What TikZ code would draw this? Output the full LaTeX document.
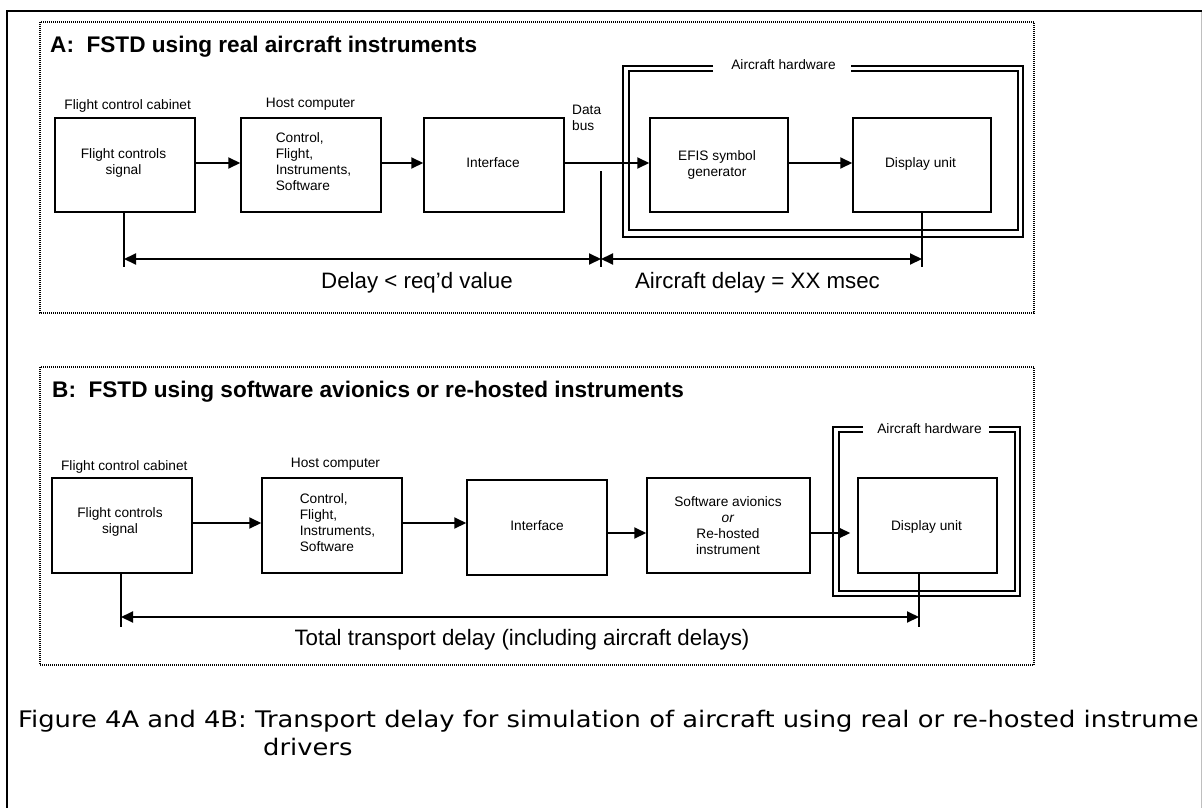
\documentclass[tikz,border=0pt]{standalone}
\usepackage{fontspec}
\setmainfont{Liberation Sans}
\newfontfamily\capfont{DejaVu Sans}
\usetikzlibrary{arrows.meta,calc}
\newcommand\smtxt{\fontsize{13.7}{16}\selectfont}
\newcommand\bigtxt{\fontsize{22.3}{26}\selectfont}
\newcommand\ttltxt{\fontsize{22.6}{26}\selectfont\bfseries}
\newcommand\captxt{\capfont\fontsize{22.8}{28}\selectfont}
\begin{document}
\begin{tikzpicture}[x=1pt,y=-1pt,
  blk/.style={draw,line width=1.5pt,minimum width=140pt,minimum height=94pt,inner sep=0pt},
  txt/.style={font=\smtxt,inner sep=0pt,align=center},
  lbl/.style={font=\smtxt,inner sep=0pt,anchor=base},
  dimlbl/.style={font=\bigtxt,inner sep=0pt,anchor=base},
  ttl/.style={font=\ttltxt,inner sep=0pt,anchor=base west},
  arr/.style={line width=2pt,-{Triangle[length=12pt,width=11pt]}},
  dimarr/.style={line width=2pt,{Triangle[length=12pt,width=11pt]}-{Triangle[length=12pt,width=11pt]}},
  tickln/.style={line width=1.3pt},
  panel/.style={line width=1.3pt,dash pattern=on 1pt off 1pt},
  hw/.style={line width=1.5pt}]
\useasboundingbox (0,0) rectangle (1202,808);
% outer frame (cropped page)
\draw[line width=2pt] (7,808) -- (7,11) -- (1202,11);
\draw[line width=1pt,black!25] (1201,12) -- (1201,808);

% ================= Panel A =================
\draw[panel] (40,22) rectangle (1034,313);
\node[ttl] (ta) at (50,53) {A:\ \ FSTD using real aircraft instruments};

\node[blk] (fa) at (125,165) {};
\node[blk] (ha) at (311,165) {};
\node[blk] (ia) at (494,165) {};
\node[blk,minimum width=138pt] (ea) at (719,165) {};
\node[blk,minimum width=138pt] (da) at (922,165) {};

\node[txt] (fat) at (123.5,162.5) {Flight controls\\signal};
\node[txt,align=left] (hat) at (313.5,162) {Control,\\Flight,\\Instruments,\\Software};
\node[lbl] (iat) at (493,167) {Interface};
\node[txt] (eat) at (717,164.5) {EFIS symbol\\generator};
\node[lbl] (dat) at (920.5,167) {Display unit};

\node[lbl] (fal) at (127.7,110) {Flight control cabinet};
\node[lbl] (hal) at (310.5,107) {Host computer};
\node[txt,align=left,anchor=west] (dbus) at (572,117.6) {Data\\bus};

% aircraft hardware frame A
\draw[hw] (713,66) -- (623,66) -- (623,237) -- (1023,237) -- (1023,66) -- (851,66);
\draw[hw] (713,71) -- (629,71) -- (629,230) -- (1018,230) -- (1018,71) -- (851,71);
\node[lbl] (hwa) at (783.5,70) {Aircraft hardware};

\draw[arr] ([yshift=2pt]fa.east) -- ([yshift=2pt]ha.west);
\draw[arr] ([yshift=2pt]ha.east) -- ([yshift=2pt]ia.west);
\draw[arr] ([yshift=2pt]ia.east) -- ([yshift=2pt]ea.west);
\draw[arr] ([yshift=2pt]ea.east) -- ([yshift=2pt]da.west);

\coordinate (tA) at (0,267);
\coordinate (dA) at (0,259);
\coordinate (busA) at (601,171);
\draw[tickln] ([xshift=-1pt]fa.south) -- ([xshift=-1pt]fa.south |- tA);
\draw[tickln] (busA) -- (busA |- tA);
\draw[tickln] (da.south) -- (da.south |- tA);
\draw[dimarr] ([xshift=-1pt]fa.south |- dA) -- (busA |- dA);
\draw[dimarr] (busA |- dA) -- (da.south |- dA);

\node[dimlbl] (dla) at (417,288) {Delay < req’d value};
\node[dimlbl] (dlb) at (757.5,288) {Aircraft delay = XX msec};

% ================= Panel B =================
\draw[panel] (40,367) rectangle (1034,665);
\node[ttl] (tb) at (52,397) {B:\ \ FSTD using software avionics or re-hosted instruments};

\node[blk,minimum height=95pt] (fb) at (122,525.5) {};
\node[blk,minimum height=95pt] (hb) at (332,525.5) {};
\node[blk,minimum height=95pt] (ib) at (537,527.5) {};
\node[blk,minimum height=95pt,minimum width=163pt] (sb) at (728.5,525.5) {};
\node[blk,minimum height=95pt,minimum width=139pt] (db) at (927.5,525.5) {};

\node[txt] (fbt) at (120,522) {Flight controls\\signal};
\node[txt,align=left] (hbt) at (337.5,522.5) {Control,\\Flight,\\Instruments,\\Software};
\node[lbl] (ibt) at (537,530) {Interface};
\node[txt] (sbt) at (728,526) {Software avionics\\\textit{or}\\Re-hosted\\instrument};
\node[lbl] (dbt) at (926.5,530) {Display unit};

\node[lbl] (fbl) at (124.3,470) {Flight control cabinet};
\node[lbl] (hbl) at (335.5,467.7) {Host computer};

% aircraft hardware frame B
\draw[hw] (863,427) -- (833,427) -- (833,596) -- (1020,596) -- (1020,427) -- (989,427);
\draw[hw] (863,432) -- (839,432) -- (839,591) -- (1015,591) -- (1015,432) -- (989,432);
\node[lbl] (hwb) at (929.5,433) {Aircraft hardware};

\draw[arr] ([yshift=2.5pt]fb.east) -- ([yshift=2.5pt]hb.west);
\draw[arr] ([yshift=2.5pt]hb.east) -- ([yshift=2.5pt]hb.east -| ib.west);
\draw[arr] ([yshift=-5.5pt]ib.east) -- ([yshift=-5.5pt]ib.east -| sb.west);
\draw[arr,shorten >=7pt] ([yshift=-7.5pt]sb.east) -- ([yshift=-7.5pt]sb.east -| db.west);

\coordinate (tB) at (0,627);
\coordinate (dB) at (0,617);
\draw[tickln] ([xshift=-1pt]fb.south) -- ([xshift=-1pt]fb.south |- tB);
\draw[tickln] ([xshift=-8.5pt]db.south) -- ([xshift=-8.5pt]db.south |- tB);
\draw[dimarr] ([xshift=-1pt]fb.south |- dB) -- ([xshift=-8.5pt]db.south |- dB);

\node[dimlbl] (dlt) at (522,645) {Total transport delay (including aircraft delays)};

% ================= Caption =================
\node[inner sep=0pt,anchor=base west] (cap1) at (18,727) {\captxt\scalebox{1.131}[1]{Figure 4A and 4B: Transport delay for simulation of aircraft using real or re-hosted instrume}};
\node[inner sep=0pt,anchor=base west] (cap2) at (263,755) {\captxt\scalebox{1.131}[1]{drivers}};
\end{tikzpicture}
\end{document}
